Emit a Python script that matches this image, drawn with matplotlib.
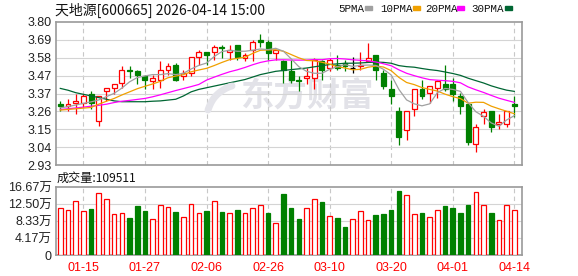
import matplotlib
matplotlib.use("Agg")
import matplotlib.pyplot as plt
from matplotlib.patches import Rectangle
import numpy as np

plt.rcParams['font.family'] = ['Liberation Sans', 'Noto Sans CJK SC', 'DejaVu Sans']

title = "天地源[600665] 2026-04-14 15:00"

# daily candles
opens  = [3.30, 3.29, 3.31, 3.31, 3.36, 3.20, 3.38, 3.40, 3.43, 3.51,
          3.50, 3.47, 3.44, 3.45, 3.51, 3.54, 3.47, 3.49, 3.59, 3.62,
          3.62, 3.65, 3.62, 3.66, 3.58, 3.63, 3.69, 3.68, 3.61, 3.56,
          3.50, 3.45, 3.46, 3.46, 3.56, 3.52, 3.54, 3.55, 3.52, 3.53,
          3.56, 3.60, 3.49, 3.39, 3.26, 3.14, 3.27, 3.39, 3.37, 3.40,
          3.42, 3.42, 3.35, 3.30, 3.06, 3.23, 3.26, 3.18, 3.18, 3.30]
highs  = [3.32, 3.33, 3.36, 3.36, 3.38, 3.35, 3.40, 3.42, 3.53, 3.53,
          3.51, 3.48, 3.48, 3.56, 3.55, 3.55, 3.51, 3.59, 3.63, 3.62,
          3.66, 3.66, 3.66, 3.66, 3.61, 3.69, 3.73, 3.69, 3.63, 3.57,
          3.57, 3.47, 3.52, 3.58, 3.57, 3.58, 3.60, 3.57, 3.59, 3.62,
          3.67, 3.60, 3.51, 3.45, 3.28, 3.26, 3.39, 3.45, 3.41, 3.45,
          3.54, 3.46, 3.37, 3.30, 3.18, 3.27, 3.26, 3.24, 3.26, 3.35]
lows   = [3.26, 3.26, 3.24, 3.28, 3.27, 3.17, 3.32, 3.36, 3.40, 3.46,
          3.42, 3.39, 3.39, 3.40, 3.48, 3.44, 3.45, 3.47, 3.54, 3.54,
          3.57, 3.58, 3.57, 3.57, 3.56, 3.56, 3.65, 3.57, 3.57, 3.43,
          3.43, 3.38, 3.42, 3.39, 3.45, 3.50, 3.51, 3.50, 3.49, 3.51,
          3.56, 3.45, 3.39, 3.30, 3.05, 3.08, 3.23, 3.33, 3.31, 3.34,
          3.38, 3.32, 3.24, 3.05, 3.01, 3.18, 3.13, 3.15, 3.16, 3.22]
closes = [3.29, 3.30, 3.32, 3.35, 3.31, 3.35, 3.40, 3.42, 3.51, 3.50,
          3.48, 3.45, 3.46, 3.51, 3.53, 3.45, 3.49, 3.59, 3.62, 3.60,
          3.65, 3.64, 3.63, 3.59, 3.60, 3.68, 3.68, 3.61, 3.63, 3.51,
          3.45, 3.44, 3.47, 3.57, 3.51, 3.57, 3.52, 3.53, 3.52, 3.54,
          3.58, 3.51, 3.41, 3.35, 3.10, 3.26, 3.39, 3.35, 3.41, 3.44,
          3.39, 3.36, 3.29, 3.07, 3.16, 3.25, 3.16, 3.19, 3.26, 3.29]
volumes = [114000, 110000, 132000, 107000, 112000, 153000, 138000, 100000, 104000, 90000,
           120000, 107000, 88000, 122000, 117000, 105000, 93000, 126000, 102000, 107000,
           132000, 105000, 102000, 110000, 102000, 114000, 122000, 102000, 78000, 149000,
           115000, 88000, 114000, 138000, 129000, 95000, 90000, 68000, 89000, 107000,
           85000, 98000, 100000, 110000, 156000, 146000, 100000, 102000, 94000, 111000,
           120000, 115000, 102000, 122000, 155000, 122000, 102000, 85000, 122000, 109511]
vol_up = [1, 1, 1, 1, 0, 1, 1, 1, 1, 0,
          0, 0, 1, 1, 1, 0, 1, 1, 1, 0,
          1, 0, 1, 0, 1, 1, 1, 0, 1, 0,
          0, 0, 1, 1, 0, 1, 0, 0, 1, 1,
          1, 0, 0, 0, 0, 1, 1, 0, 1, 1,
          0, 0, 0, 0, 1, 1, 0, 1, 1, 1]

# moving average values before the window is full (history not on screen)
ma5_head = [3.278, 3.285, 3.295, 3.305]
ma10_head = [3.264, 3.268, 3.272, 3.276, 3.28, 3.30, 3.318, 3.335, 3.356]
ma20_head = [3.268, 3.272, 3.277, 3.282, 3.288, 3.293, 3.30, 3.31, 3.318, 3.323,
             3.329, 3.335, 3.345, 3.357, 3.37, 3.383, 3.395, 3.407, 3.42]
ma30_head = [3.396, 3.385, 3.37, 3.36, 3.35, 3.34, 3.33, 3.32, 3.315, 3.315,
             3.315, 3.315, 3.318, 3.32, 3.325, 3.33, 3.35, 3.375, 3.39, 3.40,
             3.41, 3.42, 3.43, 3.44, 3.45, 3.465, 3.48, 3.49, 3.50]

price_labels = ["2.93", "3.04", "3.15", "3.26", "3.37", "3.47", "3.58", "3.69", "3.80"]
vol_ticks = [0, 41700, 83300, 125000, 166700]
vol_labels = ["0", "4.17万", "8.33万", "12.50万", "16.67万"]
date_pos = [3, 11, 19, 27, 35, 43, 51, 59]
date_labels = ["01-15", "01-27", "02-06", "02-26", "03-10", "03-20", "04-01", "04-14"]

RED = "#ff0000"
GREEN = "#008000"
GRID = "#d4d4d4"
FRAME = "#9a9a9a"

o = np.array(opens); h = np.array(highs); l = np.array(lows); c = np.array(closes)
x = np.arange(len(c))


def moving_avg(n, head):
    rest = [c[i - n + 1:i + 1].mean() for i in range(n - 1, len(c))]
    return np.array(head + rest)


W, H = 578, 276
fig = plt.figure(figsize=(W / 100, H / 100), dpi=100)


def box(left, top, right, bottom):
    return [left / W, 1 - bottom / H, (right - left) / W, (bottom - top) / H]


ax = fig.add_axes(box(56, 22, 522, 165))
ax2 = fig.add_axes(box(56, 187, 522, 255))

ymin, ymax = 2.93, 3.80
ax.set_ylim(ymin, ymax)
ax.set_xlim(-0.56, 60.0)
ax2.set_xlim(-0.56, 60.0)
ax2.set_ylim(0, 166700)

price_pos = np.linspace(ymin, ymax, 9)
for a in (ax, ax2):
    for s in a.spines.values():
        s.set_color(FRAME)
        s.set_linewidth(1.2)
    for p in date_pos:
        a.axvline(p, color="#c8c8c8", lw=0.8, ls=(0, (4, 3)), zorder=1)
    a.tick_params(length=0, labelsize=9, colors="#222222", pad=3)

for p in price_pos[1:-1]:
    ax.axhline(p, color=GRID, lw=0.8, zorder=1)
for p in vol_ticks[1:-1]:
    ax2.axhline(p, color=GRID, lw=0.8, zorder=1)

ax.set_yticks(price_pos)
ax.set_yticklabels(price_labels)
ax.set_xticks([])
ax2.set_yticks(vol_ticks)
ax2.set_yticklabels(vol_labels)
ax2.set_xticks(date_pos)
ax2.set_xticklabels(date_labels, color=RED, fontsize=9)
ax2.tick_params(axis="x", pad=5)

# watermark: logo swoosh + name
t = np.linspace(0, 1, 40)
sx = (232 - 24 * t - 4 * np.sin(np.pi * t)) / W
sy = 1 - (86 + 24 * t ** 1.3) / H
fig.add_artist(plt.Line2D(sx, sy, color="#e4e4ea", lw=5, solid_capstyle="round", zorder=0.5))
ax.text((307 - 56) / 466, (165 - 97) / 143, "东方财富", transform=ax.transAxes, fontsize=24,
        fontweight="bold", color="#e2e2e8", ha="center", va="center",
        family=["Noto Sans CJK SC"], zorder=0)

# candles
up = c > o
down = c < o
flat = c == o
wick_col = np.where(up, RED, np.where(down, GREEN, "black"))
ax.vlines(x, l, h, colors=wick_col, lw=0.9, zorder=3)
body_lo = np.minimum(o, c)
body_h = np.abs(c - o)
ax.bar(x[up], body_h[up], bottom=body_lo[up], width=0.64, facecolor="white",
       edgecolor=RED, lw=0.9, zorder=4)
ax.bar(x[down], body_h[down], bottom=body_lo[down], width=0.64, facecolor=GREEN,
       edgecolor=GREEN, lw=0.9, zorder=4)
ax.hlines(c[flat], x[flat] - 0.32, x[flat] + 0.32, colors="black", lw=0.9, zorder=4)

# moving averages
ax.plot(x, moving_avg(30, ma30_head), color="#006633", lw=0.9, zorder=5)
ax.plot(x, moving_avg(20, ma20_head), color="#ff00ff", lw=0.9, zorder=5)
ax.plot(x, moving_avg(10, ma10_head), color="#f0a000", lw=0.9, zorder=5)
ax.plot(x, moving_avg(5, ma5_head), color="#a0a0a0", lw=0.9, zorder=5)

# volume
v = np.array(volumes)
vu = np.array(vol_up) == 1
ax2.bar(x[vu], v[vu], width=0.6, facecolor="white", edgecolor=RED, lw=0.9, zorder=3)
ax2.bar(x[~vu], v[~vu], width=0.6, facecolor=GREEN, edgecolor=GREEN, lw=0.9, zorder=3)

# header texts
fig.text(55 / W, 1 - 10 / H, title, fontsize=10, va="center", ha="left",
         family=["Noto Sans CJK SC"], color="#111111")
fig.text(57 / W, 1 - 178 / H, "成交量:%d" % volumes[-1], fontsize=8.7, va="center",
         ha="left", family=["Noto Sans CJK SC"], color="#111111")

# legend
legend = [("5PMA", "#a0a0a0", 338, 365), ("10PMA", "#f0a000", 380, 413),
          ("20PMA", "#ff00ff", 425, 457), ("30PMA", "#006633", 471, 505)]
for name, col, lx, rx in legend:
    fig.text(lx / W, 1 - 8.5 / H, name, fontsize=7.8, va="center", ha="left",
             family=["Liberation Mono"], color="#111111")
    fig.patches.append(Rectangle((rx / W, 1 - 9.5 / H), 7 / W, 3 / H,
                                 transform=fig.transFigure, color=col))

fig.savefig("out.png", dpi=100)
